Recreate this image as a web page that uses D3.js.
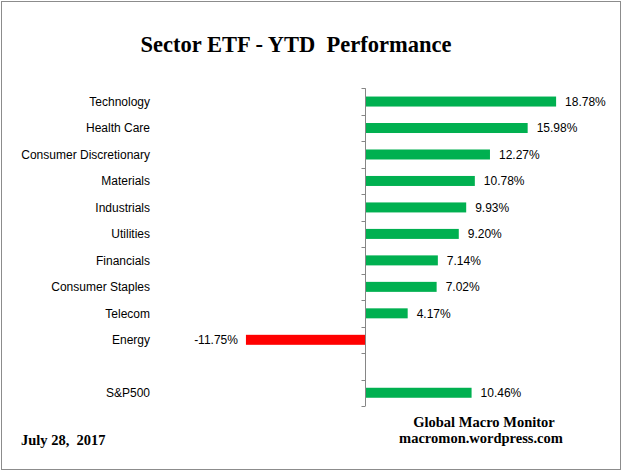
<!DOCTYPE html>
<html>
<head>
<meta charset="utf-8">
<script src="https://cdnjs.cloudflare.com/ajax/libs/d3/7.8.5/d3.min.js"></script>
<style>
  body { margin: 0; background: #fff; }
  svg { display: block; }
  .cat, .val { font-family: "Liberation Sans", Arial, sans-serif; font-size: 12px; fill: #000; }
  .serif { font-family: "Liberation Serif", "Times New Roman", serif; font-weight: bold; fill: #000; white-space: pre; }
</style>
</head>
<body>
<svg width="626" height="473"></svg>
<script>
const sectors = ["Technology", "Health Care", "Consumer Discretionary", "Materials", "Industrials",
  "Utilities", "Financials", "Consumer Staples", "Telecom", "Energy", "", "S&P500"];
const ytd = [18.78, 15.98, 12.27, 10.78, 9.93, 9.20, 7.14, 7.02, 4.17, -11.75, null, 10.46];

const rows = sectors.map((name, i) => ({ key: i, name: name, value: ytd[i] }));

const svg = d3.select("svg");

// outer frame
svg.append("rect")
  .attr("x", 1.5).attr("y", 1.5)
  .attr("width", 619).attr("height", 468)
  .attr("fill", "#fff")
  .attr("stroke", "#8c8c8c");

svg.append("text")
  .attr("class", "serif")
  .attr("x", 296).attr("y", 52)
  .attr("text-anchor", "middle")
  .style("font-size", "22.5px")
  .text("Sector ETF - YTD  Performance");

const x = d3.scaleLinear().domain([-12, 20]).range([243.4, 568.5]);
const y = d3.scaleBand().domain(rows.map(d => d.key)).range([88.3, 406]);

const barH = 10;

// bars
svg.selectAll(".bar")
  .data(rows.filter(d => d.value !== null))
  .enter().append("rect")
  .attr("class", "bar")
  .attr("x", d => x(Math.min(0, d.value)))
  .attr("y", d => y(d.key) + y.bandwidth() / 2 - barH / 2)
  .attr("width", d => Math.abs(x(d.value) - x(0)))
  .attr("height", barH)
  .attr("fill", d => d.value < 0 ? "#ff0000" : "#00b050");

// axis line with ticks at band edges
const x0 = Math.round(x(0)) + 0.5;
const edges = rows.map(d => y(d.key)).concat([y.range()[1]]);
svg.append("line")
  .attr("x1", x0).attr("x2", x0)
  .attr("y1", y.range()[0]).attr("y2", y.range()[1])
  .attr("stroke", "#868686");
svg.selectAll(".tick")
  .data(edges)
  .enter().append("line")
  .attr("class", "tick")
  .attr("x1", x0 - 4).attr("x2", x0)
  .attr("y1", d => Math.round(d) + 0.5).attr("y2", d => Math.round(d) + 0.5)
  .attr("stroke", "#868686");

// category labels
svg.selectAll(".cat")
  .data(rows)
  .enter().append("text")
  .attr("class", "cat")
  .attr("x", 150)
  .attr("y", d => y(d.key) + y.bandwidth() / 2)
  .attr("dy", "0.35em")
  .attr("text-anchor", "end")
  .text(d => d.name);

// value labels
svg.selectAll(".val")
  .data(rows.filter(d => d.value !== null))
  .enter().append("text")
  .attr("class", "val")
  .attr("x", d => d.value < 0 ? x(d.value) - 8 : x(d.value) + 9)
  .attr("y", d => y(d.key) + y.bandwidth() / 2)
  .attr("dy", "0.35em")
  .attr("text-anchor", d => d.value < 0 ? "end" : "start")
  .text(d => d.value.toFixed(2) + "%");

// footer
svg.append("text")
  .attr("class", "serif")
  .attr("x", 21).attr("y", 445)
  .style("font-size", "14.5px")
  .text("July 28,  2017");

svg.append("text")
  .attr("class", "serif")
  .attr("x", 484).attr("y", 427)
  .attr("text-anchor", "middle")
  .style("font-size", "14.5px")
  .text("Global Macro Monitor");

svg.append("text")
  .attr("class", "serif")
  .attr("x", 481).attr("y", 443)
  .attr("text-anchor", "middle")
  .style("font-size", "14.5px")
  .text("macromon.wordpress.com");
</script>
</body>
</html>
